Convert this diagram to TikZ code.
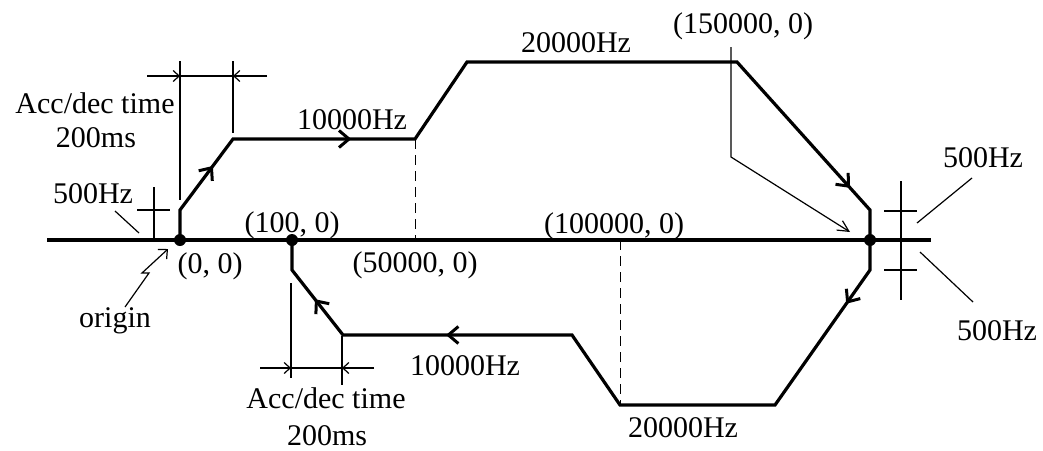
\documentclass[tikz,border=0pt]{standalone}
\usepackage{fontspec}
\setmainfont{Liberation Serif}
\usetikzlibrary{arrows.meta, decorations.markings}

\begin{document}
\begin{tikzpicture}[
    x=1pt, y=-1pt,
    profile/.style={line width=3.2pt, line join=miter},
    thinline/.style={line width=1.2pt},
    guide/.style={line width=1pt, dash pattern=on 10pt off 6pt},
    dimarrow/.style={thinline, -{Straight Barb[length=6pt, width=11pt]}},
    flowarrow/.style={postaction={decorate}, decoration={markings,
        mark=at position #1 with {\arrow{Straight Barb[length=10pt, width=17pt, line width=3pt]}}}},
    txt/.style={font=\fontsize{30}{35}\selectfont, inner sep=0pt, anchor=base}
]
    \useasboundingbox (0,0) rectangle (1043,450);

    % axis and start/end points
    \coordinate (axL) at (47,240);
    \coordinate (axR) at (931,240);
    \coordinate (P0) at (180,240);
    \coordinate (P1) at (292,240);
    \coordinate (P2) at (870,240);
    \draw[profile] (axL) -- (axR);

    % forward run
    \coordinate (U1) at (180,210);
    \coordinate (U2) at (233,139);
    \coordinate (U3) at (415,139);
    \coordinate (U4) at (467,62);
    \coordinate (U5) at (737,62);
    \coordinate (U6) at (870,210);
    \draw[profile] (P0) -- (U1) -- (U2) -- (U3) -- (U4) -- (U5) -- (U6) -- (P2);

    % reverse run
    \coordinate (L1) at (870,270);
    \coordinate (L2) at (775,405);
    \coordinate (L3) at (620,405);
    \coordinate (L4) at (572,335);
    \coordinate (L5) at (343,335);
    \coordinate (L6) at (292,270);
    \draw[profile] (P2) -- (L1) -- (L2) -- (L3) -- (L4) -- (L5) -- (L6) -- (P1);

    % direction marks
    \path[flowarrow=0.62] (U1) -- (U2);
    \path[flowarrow=0.65] (U2) -- (U3);
    \path[flowarrow=0.85] (U5) -- (U6);
    \path[flowarrow=0.25] (L1) -- (L2);
    \path[flowarrow=0.55] (L4) -- (L5);
    \path[flowarrow=0.55] (L5) -- (L6);

    \foreach \p in {P0, P1, P2}
        \fill (\p) circle (6pt);

    % dashed guides
    \coordinate (G1) at (415,240);
    \coordinate (G2) at (620,240);
    \draw[guide] (U3) -- (G1);
    \draw[guide] (G2) -- (L3);

    % upper acc/dec dimension
    \coordinate (da1) at (180,61);
    \coordinate (da2) at (180,200);
    \coordinate (db1) at (233,61);
    \coordinate (db2) at (233,133);
    \draw[thinline] (da1) -- (da2);
    \draw[thinline] (db1) -- (db2);
    \coordinate (dl) at (147,76);
    \coordinate (dr) at (267,76);
    \draw[thinline] (dl) -- (dr);
    \draw[dimarrow] (dl) -- (180,76);
    \draw[dimarrow] (dr) -- (233,76);

    % lower acc/dec dimension
    \coordinate (dc1) at (291,283);
    \coordinate (dc2) at (291,378);
    \coordinate (dd1) at (342,336);
    \coordinate (dd2) at (342,385);
    \draw[thinline] (dc1) -- (dc2);
    \draw[thinline] (dd1) -- (dd2);
    \coordinate (el) at (260,368);
    \coordinate (er) at (374,368);
    \draw[thinline] (el) -- (er);
    \draw[dimarrow] (el) -- (291,368);
    \draw[dimarrow] (er) -- (342,368);

    % 500Hz markers, left
    \coordinate (ma1) at (154,187);
    \coordinate (ma2) at (154,240);
    \coordinate (ta1) at (137,210);
    \coordinate (ta2) at (170,210);
    \draw[thinline] (ma1) -- (ma2);
    \draw[thinline] (ta1) -- (ta2);
    \coordinate (la1) at (115,211);
    \coordinate (la2) at (139,233);
    \draw[thinline] (la1) -- (la2);

    % 500Hz markers, right
    \coordinate (mb1) at (901,181);
    \coordinate (mb2) at (901,300);
    \draw[thinline] (mb1) -- (mb2);
    \coordinate (tb1) at (884,211);
    \coordinate (tb2) at (917,211);
    \coordinate (tc1) at (884,270);
    \coordinate (tc2) at (917,270);
    \draw[thinline] (tb1) -- (tb2);
    \draw[thinline] (tc1) -- (tc2);
    \coordinate (lb1) at (917,223);
    \coordinate (lb2) at (972,178);
    \coordinate (lc1) at (920,252);
    \coordinate (lc2) at (973,302);
    \draw[thinline] (lb1) -- (lb2);
    \draw[thinline] (lc1) -- (lc2);

    % origin pointer
    \coordinate (o1) at (125,307);
    \coordinate (o2) at (149,273);
    \coordinate (o3) at (142,273);
    \coordinate (o4) at (168,249);
    \draw[thinline, -{Straight Barb[length=7pt, width=13pt]}] (o1) -- (o2) -- (o3) -- (o4);

    % pointer to end point
    \coordinate (q1) at (731,47);
    \coordinate (q2) at (731,157);
    \coordinate (q3) at (850,232);
    \draw[thinline, -{Straight Barb[length=11pt, width=11pt]}] (q1) -- (q2) -- (q3);

    % labels
    \node[txt] (accU) at (95,113) {Acc/dec time};
    \node[txt] (msU) at (96,147) {200ms};
    \node[txt] (hzL) at (93,203) {500Hz};
    \node[txt] (c0) at (210,273) {(0, 0)};
    \node[txt] (c100) at (292,232) {(100, 0)};
    \node[txt] (orig) at (115,327) {origin};
    \node[txt] (f1) at (352,129) {10000Hz};
    \node[txt] (c50k) at (415,272) {(50000, 0)};
    \node[txt] (c100k) at (614,233) {(100000, 0)};
    \node[txt] (f2) at (576,52) {20000Hz};
    \node[txt] (c150k) at (743,33) {(150000, 0)};
    \node[txt] (f3) at (465,375) {10000Hz};
    \node[txt] (accL) at (326,408) {Acc/dec time};
    \node[txt] (msL) at (327,445) {200ms};
    \node[txt] (f4) at (683,437) {20000Hz};
    \node[txt] (hzRU) at (983,167) {500Hz};
    \node[txt] (hzRL) at (997,340) {500Hz};
\end{tikzpicture}
\end{document}
